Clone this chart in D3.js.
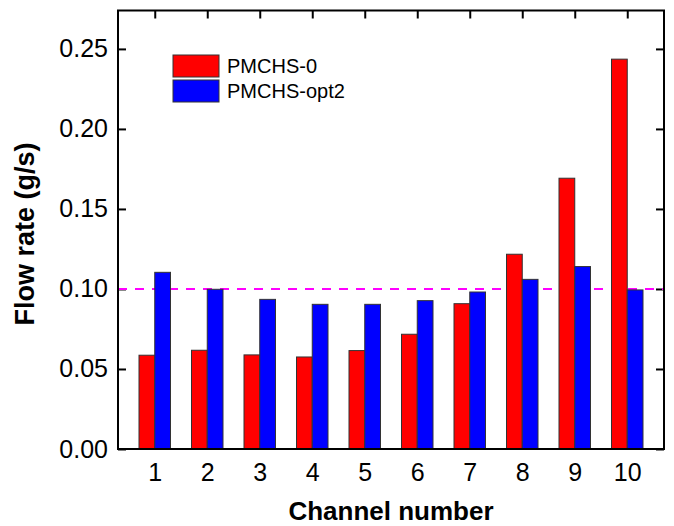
<!DOCTYPE html>
<html>
<head>
<meta charset="utf-8">
<script src="https://cdn.jsdelivr.net/npm/d3@7"></script>
<style>
  html, body { margin: 0; padding: 0; background: #fff; }
  svg { display: block; font-family: "Liberation Sans", Arial, sans-serif; }
</style>
</head>
<body>
<svg id="chart" width="674" height="526"></svg>
<script>
const channels = [1, 2, 3, 4, 5, 6, 7, 8, 9, 10];
const pmchs0 = [0.0586, 0.0617, 0.0588, 0.0575, 0.0615, 0.0717, 0.0908, 0.1217, 0.1692, 0.2436];
const pmchsOpt2 = [0.1104, 0.0998, 0.0935, 0.0904, 0.0904, 0.0927, 0.0981, 0.1060, 0.1140, 0.0994];
const yTicks = [0, 0.05, 0.10, 0.15, 0.20, 0.25];
const targetFlow = 0.10;
const seriesNames = ['PMCHS-0', 'PMCHS-opt2'];
const seriesColors = ['#ff0000', '#0000ff'];

const plot = { left: 118, right: 664, top: 10.5, bottom: 449 };
const barWidth = 0.3; // in channel units

const svg = d3.select('#chart');

const x = d3.scaleLinear().domain([0.3, 10.7]).range([plot.left, plot.right]);
const y = d3.scaleLinear().domain([0, 0.274]).range([plot.bottom, plot.top]);

// axes (ticks point inward, drawn under the bars)
const leftAxis = svg.append('g')
  .attr('transform', `translate(${plot.left},0)`)
  .call(d3.axisLeft(y).tickValues(yTicks).tickFormat(d3.format('.2f'))
    .tickSizeInner(-8).tickSizeOuter(0).tickPadding(10));
const rightAxis = svg.append('g')
  .attr('transform', `translate(${plot.right},0)`)
  .call(d3.axisRight(y).tickValues(yTicks).tickFormat('')
    .tickSizeInner(-8).tickSizeOuter(0));
const bottomAxis = svg.append('g')
  .attr('transform', `translate(0,${plot.bottom})`)
  .call(d3.axisBottom(x).tickValues(channels).tickFormat(d3.format('d'))
    .tickSizeInner(-8).tickSizeOuter(0).tickPadding(14));
const topAxis = svg.append('g')
  .attr('transform', `translate(0,${plot.top})`)
  .call(d3.axisTop(x).tickValues(channels).tickFormat('')
    .tickSizeInner(-8).tickSizeOuter(0));

[leftAxis, rightAxis, bottomAxis, topAxis].forEach((g) => {
  g.select('.domain').remove();
  g.selectAll('.tick line').attr('stroke', '#000').attr('stroke-width', 2);
  g.selectAll('.tick text')
    .attr('fill', '#000')
    .style('font-size', '25px')
    .style('font-family', '"Liberation Sans", Arial, sans-serif');
});

// target line
svg.append('line')
  .attr('x1', plot.left)
  .attr('x2', plot.right)
  .attr('y1', y(targetFlow))
  .attr('y2', y(targetFlow))
  .attr('stroke', '#ff00ff')
  .attr('stroke-width', 2)
  .attr('stroke-dasharray', '9,8');

// bars
const rows = channels.map((c, i) => ({ c, values: [pmchs0[i], pmchsOpt2[i]] }));
const groups = svg.append('g').selectAll('g')
  .data(rows)
  .join('g');

groups.selectAll('rect')
  .data((row) => row.values.map((v, k) => ({ c: row.c, v, k })))
  .join('rect')
  .attr('x', (d) => x(d.c + (d.k - 1) * barWidth))
  .attr('y', (d) => y(d.v))
  .attr('width', (d) => x(d.c + barWidth) - x(d.c))
  .attr('height', (d) => y(0) - y(d.v))
  .attr('fill', (d) => seriesColors[d.k])
  .attr('stroke', '#333')
  .attr('stroke-width', 1);

// frame
svg.append('rect')
  .attr('x', plot.left)
  .attr('y', plot.top)
  .attr('width', plot.right - plot.left)
  .attr('height', plot.bottom - plot.top)
  .attr('fill', 'none')
  .attr('stroke', '#000')
  .attr('stroke-width', 2);

// legend
const legend = svg.append('g').attr('transform', 'translate(173,55)');
seriesNames.forEach((name, i) => {
  legend.append('rect')
    .attr('x', 0)
    .attr('y', i * 25)
    .attr('width', 46)
    .attr('height', 22)
    .attr('fill', seriesColors[i])
    .attr('stroke', '#333')
    .attr('stroke-width', 1);
  legend.append('text')
    .attr('x', 54)
    .attr('y', i * 25 + 18)
    .style('font-size', '20px')
    .text(name);
});

// axis titles
svg.append('text')
  .attr('transform', 'translate(34,234) rotate(-90)')
  .attr('text-anchor', 'middle')
  .style('font-size', '27px')
  .style('font-weight', 'bold')
  .text('Flow rate (g/s)');

svg.append('text')
  .attr('x', (plot.left + plot.right) / 2)
  .attr('y', 520)
  .attr('text-anchor', 'middle')
  .style('font-size', '26px')
  .style('font-weight', 'bold')
  .text('Channel number');
</script>
</body>
</html>
